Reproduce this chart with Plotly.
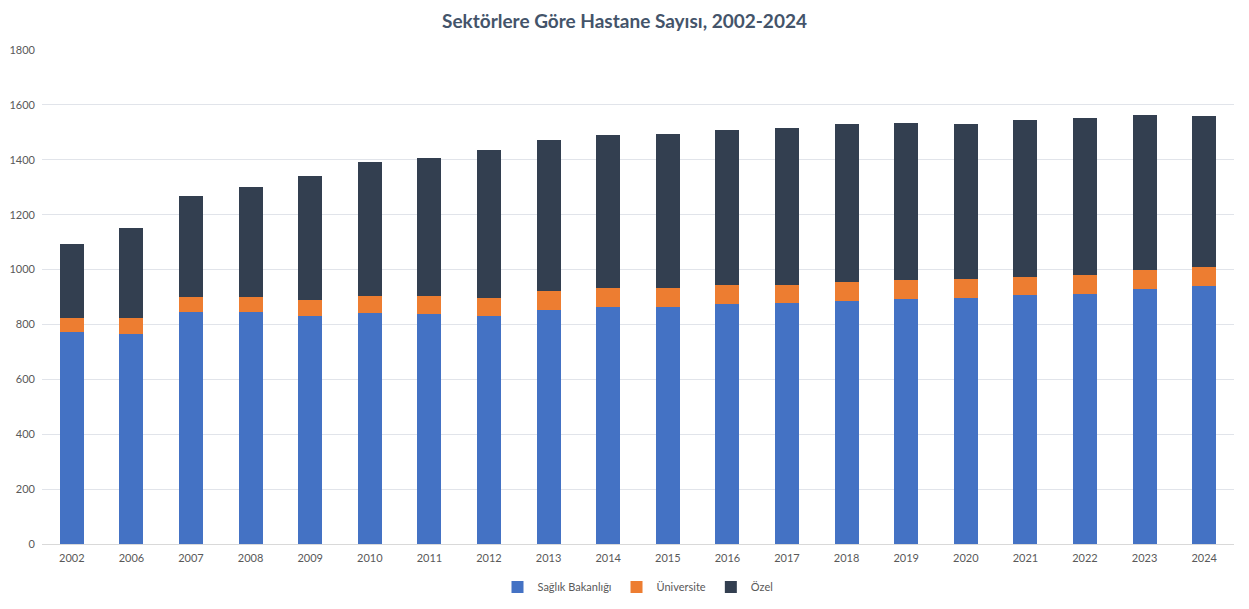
import plotly.graph_objects as go

years = ["2002", "2006", "2007", "2008", "2009", "2010", "2011", "2012", "2013", "2014",
         "2015", "2016", "2017", "2018", "2019", "2020", "2021", "2022", "2023", "2024"]
saglik_bakanligi = [774, 766, 846, 846, 832, 842, 839, 832, 854, 864,
                    864, 876, 878, 885, 893, 897, 907, 912, 929, 941]
universite = [50, 57, 54, 54, 57, 62, 65, 64, 68, 69,
              69, 68, 66, 70, 69, 69, 66, 68, 69, 68]
ozel = [270, 328, 368, 401, 452, 488, 502, 540, 550, 557,
        561, 564, 572, 575, 572, 564, 572, 572, 565, 551]

series_names = ["Sağlık Bakanlığı", "Üniversite", "Özel"]
series_colors = ["#4472C4", "#ED7D31", "#333F50"]
series_values = [saglik_bakanligi, universite, ozel]

fig = go.Figure()
for name, color, vals in zip(series_names, series_colors, series_values):
    fig.add_trace(go.Bar(
        x=years, y=vals, name=name,
        marker=dict(color=color, line=dict(width=0)),
    ))

fig.update_layout(
    barmode="stack",
    bargap=0.6,
    width=1233, height=593,
    margin=dict(l=34, r=7, t=42, b=57, autoexpand=False),
    paper_bgcolor="white",
    plot_bgcolor="white",
    font=dict(family="Lato", size=11, color="#595959"),
    title=dict(
        text="<b>Sektörlere Göre Hastane Sayısı, 2002-2024</b>",
        x=0.5, xanchor="center", y=0.978, yanchor="middle",
        font=dict(family="Lato", size=19, color="#44546A"),
    ),
    legend=dict(
        orientation="h", x=0.5, xanchor="center", y=-0.087, yanchor="middle",
        font=dict(size=11, color="#595959"),
        itemwidth=30, traceorder="normal",
    ),
    showlegend=True,
)
fig.update_xaxes(
    type="category", showgrid=False, showline=True, linecolor="#D9D9D9",
    linewidth=1, ticks="", ticklabelstandoff=4,
    tickfont=dict(size=11, color="#595959"),
)
fig.update_yaxes(
    range=[0, 1800], dtick=200, showgrid=True, gridcolor="#E1E4EA", gridwidth=1,
    zeroline=False, showline=False, ticks="", ticklabelstandoff=6,
    tickfont=dict(size=11, color="#595959"),
)

fig.write_html("out.html")
